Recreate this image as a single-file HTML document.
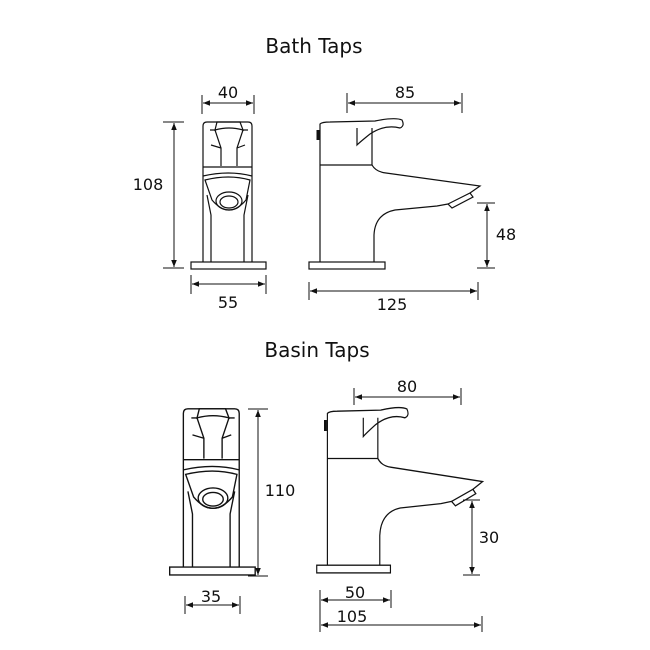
<!DOCTYPE html>
<html><head><style>body{margin:0;background:#fff}svg{display:block}text{font-family:"DejaVu Sans","Liberation Sans",sans-serif;fill:#111}</style></head><body>
<svg width="650" height="650" viewBox="0 0 650 650" xmlns="http://www.w3.org/2000/svg">
<defs>
<marker id="a" viewBox="0 0 10 10" refX="10" refY="5" markerWidth="7" markerHeight="7" orient="auto-start-reverse"><path d="M0,1 L10,5 L0,9 Z" fill="#111"/></marker>
<g id="front" fill="none" stroke="#111" stroke-width="1.2">
<path d="M203,262 L203,126 Q203,122 207,122 L248,122 Q252,122 252,126 L252,262"/>
<path d="M215,130 L217,122 L240,122 L243,130 Q229,126 215,130 Z"/>
<path d="M210,130 L215,130 L221,148 L221,166 M248,130 L243,130 L237,148 L237,166 M211,145 L221,148 M245,145 L237,148"/>
<line x1="203" y1="167" x2="252" y2="167"/>
<path d="M203,176 Q229,170 252,176 M205,180 Q229,174 250,180 L246,200 Q229,220 212,200 Z"/>
<ellipse cx="229" cy="201" rx="13" ry="9"/>
<ellipse cx="229" cy="202" rx="9" ry="6"/>
<path d="M207,195 L211,215 L211,262 M248,195 L244,215 L244,262"/>
<rect x="191" y="262" width="75" height="7"/>
</g>
<g id="side" fill="none" stroke="#111" stroke-width="1.2">
<path d="M320,262 L320,124 Q322,122 330,122 L375,121 Q395,117 402,120 Q405,126 400,128 Q385,124 370,134 Q360,142 357,145 L357,128"/>
<path d="M320,165 L372,165 L372,128"/>
<path d="M372,165 Q376,172 386,173 L480,186 L470,193"/>
<path d="M470,193 L473,197 L452,208 L448,204 Z"/>
<path d="M448,204 L437,206 L395,210 Q375,214 374,235 L374,262"/>
<path d="M318,130 L318,140" stroke-width="3"/>
<rect x="309" y="262" width="76" height="7"/>
</g>
</defs>
<text x="314" y="53" font-size="20" text-anchor="middle">Bath Taps</text>
<text x="317" y="357" font-size="20" text-anchor="middle">Basin Taps</text>
<g font-size="16" text-anchor="middle">
<use href="#front"/>
<use href="#side"/>
<g stroke="#111" stroke-width="1" fill="none">
<line x1="202" y1="95" x2="202" y2="114"/><line x1="254" y1="95" x2="254" y2="114"/>
<line x1="203" y1="103" x2="253" y2="103" marker-start="url(#a)" marker-end="url(#a)"/>
<line x1="163" y1="122" x2="184" y2="122"/><line x1="163" y1="268" x2="184" y2="268"/>
<line x1="174" y1="123" x2="174" y2="267" marker-start="url(#a)" marker-end="url(#a)"/>
<line x1="191" y1="275" x2="191" y2="294"/><line x1="266" y1="275" x2="266" y2="294"/>
<line x1="192" y1="284" x2="265" y2="284" marker-start="url(#a)" marker-end="url(#a)"/>
<line x1="347" y1="93" x2="347" y2="113"/><line x1="462" y1="93" x2="462" y2="113"/>
<line x1="348" y1="103" x2="461" y2="103" marker-start="url(#a)" marker-end="url(#a)"/>
<line x1="309" y1="282" x2="309" y2="300"/><line x1="478" y1="282" x2="478" y2="300"/>
<line x1="310" y1="291" x2="477" y2="291" marker-start="url(#a)" marker-end="url(#a)"/>
<line x1="477" y1="203" x2="495" y2="203"/><line x1="477" y1="268" x2="495" y2="268"/>
<line x1="487" y1="204" x2="487" y2="267" marker-start="url(#a)" marker-end="url(#a)"/>
</g>
<text x="228" y="98">40</text><text x="148" y="190">108</text><text x="228" y="308">55</text>
<text x="405" y="98">85</text><text x="392" y="310">125</text><text x="506" y="240">48</text>
</g>
<g transform="translate(-16,271) scale(1.0 1.13)"><use href="#front" transform="translate(229,0) scale(1.14,1) translate(-229,0)"/></g>
<g transform="translate(17,277) scale(0.97 1.1)"><use href="#side"/></g>
<g font-size="16" text-anchor="middle">
<g stroke="#111" stroke-width="1" fill="none">
<line x1="248" y1="409" x2="268" y2="409"/><line x1="248" y1="576" x2="268" y2="576"/>
<line x1="258" y1="410" x2="258" y2="575" marker-start="url(#a)" marker-end="url(#a)"/>
<line x1="185" y1="596" x2="185" y2="614"/><line x1="240" y1="596" x2="240" y2="614"/>
<line x1="186" y1="605" x2="239" y2="605" marker-start="url(#a)" marker-end="url(#a)"/>
<line x1="354" y1="388" x2="354" y2="405"/><line x1="461" y1="388" x2="461" y2="405"/>
<line x1="355" y1="397" x2="460" y2="397" marker-start="url(#a)" marker-end="url(#a)"/>
<line x1="320" y1="590" x2="320" y2="632"/><line x1="391" y1="590" x2="391" y2="608"/>
<line x1="321" y1="600" x2="390" y2="600" marker-start="url(#a)" marker-end="url(#a)"/>
<line x1="482" y1="616" x2="482" y2="632"/>
<line x1="321" y1="625" x2="481" y2="625" marker-start="url(#a)" marker-end="url(#a)"/>
<line x1="463" y1="500" x2="480" y2="500"/><line x1="463" y1="575" x2="480" y2="575"/>
<line x1="472" y1="501" x2="472" y2="574" marker-start="url(#a)" marker-end="url(#a)"/>
</g>
<text x="280" y="496">110</text><text x="211" y="602">35</text>
<text x="407" y="392">80</text><text x="489" y="543">30</text>
<text x="355" y="598">50</text><text x="352" y="622">105</text>
</g>
</svg>
</body></html>
